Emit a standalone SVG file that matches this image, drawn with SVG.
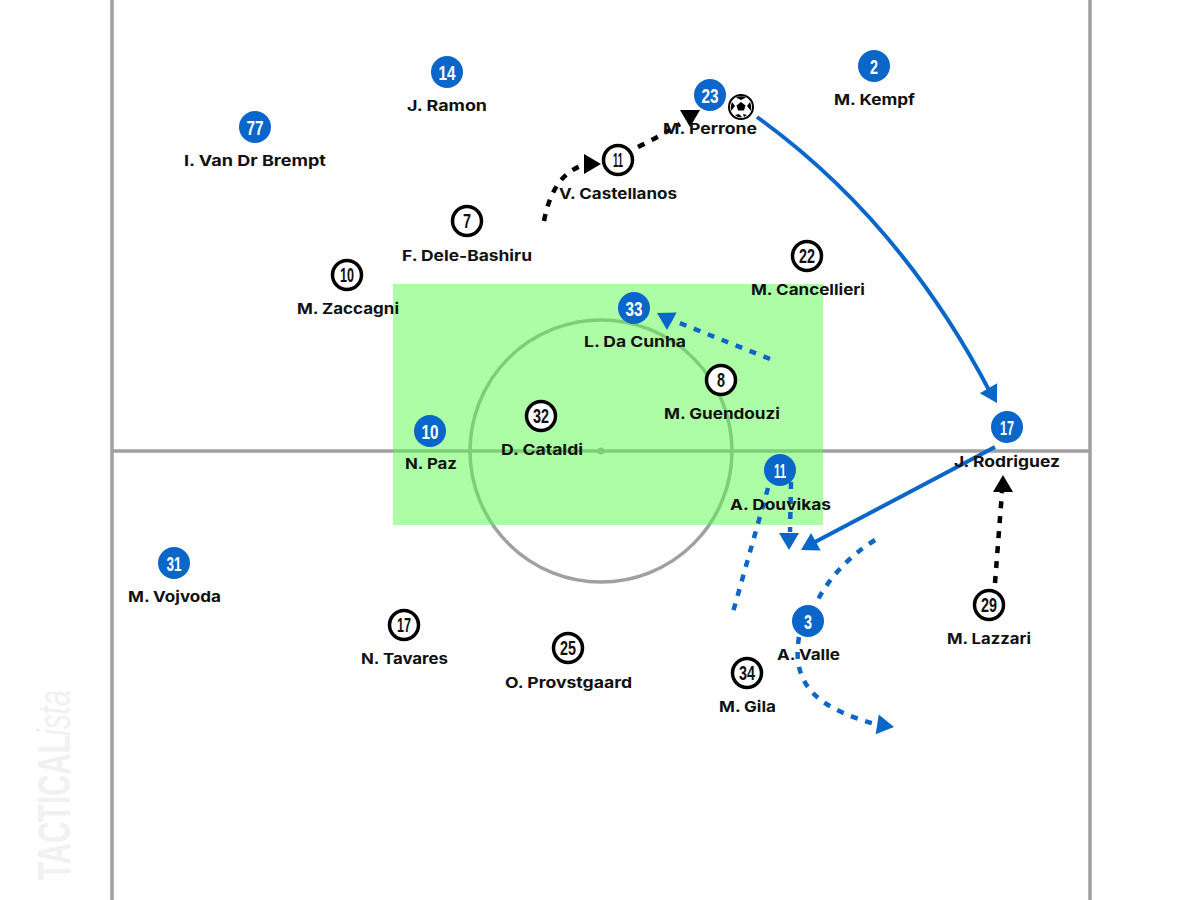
<svg xmlns="http://www.w3.org/2000/svg" width="1200" height="900" viewBox="0 0 1200 900">
<style>
.pitch{fill:none;stroke:#a0a0a0;stroke-width:3.5}
.zone{fill:rgb(91,251,77);opacity:.5}
.ln{fill:none;stroke-width:4}
.blue{stroke:#0a66c8}
.black{stroke:#000;stroke-width:4.5}
.dash{stroke-dasharray:7 8;stroke-width:4.5}
.hb{fill:#0a66c8}
.hk{fill:#000}
.dotb{fill:#0a66c8}
.dotw{fill:#fff;stroke:#000;stroke-width:3.5}
.nb{font:700 21px "Liberation Sans",sans-serif;fill:#fff;text-anchor:middle}
.nw{font:700 20px "Liberation Sans",sans-serif;fill:#111;text-anchor:middle}
.lb{font:700 15px Inter,"Liberation Sans",sans-serif;fill:#111;text-anchor:middle}
.wm{font:700 46px "Liberation Sans",sans-serif;fill:#f1f1f1}
.wi{font-weight:400;font-style:italic}
</style>
<defs><polygon id="head" points="-17,-10 0,0 -17,10"/></defs>
<rect width="1200" height="900" fill="#fff"/>
<g id="pitch">
<path class="pitch" d="M112 0V900M1090 0V900M112 451H1090"/>
<circle class="pitch" cx="601" cy="451" r="131"/>
<circle cx="601" cy="451" r="3.5" fill="#a0a0a0"/>
<rect class="zone" x="393" y="284" width="430" height="241"/>
</g>
<text class="wm" transform="translate(70,880) rotate(-90)" textLength="190" lengthAdjust="spacingAndGlyphs">TACTICAL<tspan class="wi">ista</tspan></text>
<g id="connectors">
<path class="ln black dash" d="M544 221C549 195 560 172 584 165"/>
<use href="#head" class="hk" transform="translate(601,164)"/>
<path class="ln black dash" d="M638 147Q660 136 680 124"/>
<use href="#head" class="hk" transform="translate(690,127) rotate(90)"/>
<path class="ln black dash" d="M995 583L1002 492"/>
<use href="#head" class="hk" transform="translate(1003,475) rotate(-90)"/>
<path class="ln blue" d="M757 117Q900 220 990 392"/>
<use href="#head" class="hb" transform="translate(997,403) rotate(60)"/>
<path class="ln blue" d="M995 447L815 542"/>
<use href="#head" class="hb" transform="translate(801,550) rotate(151)"/>
<path class="ln blue dash" d="M770 359L672 320"/>
<use href="#head" class="hb" transform="translate(657,313) rotate(209)"/>
<path class="ln blue dash" d="M791 482L790 532"/>
<use href="#head" class="hb" transform="translate(789,550) rotate(90)"/>
<path class="ln blue dash" d="M768 488L733 612"/>
<path class="ln blue dash" d="M875 540Q835 565 815 605"/>
<path class="ln blue dash" d="M799 637C790 690 825 710 878 725"/>
<use href="#head" class="hb" transform="translate(894,727) rotate(9)"/>
</g>
<g id="p14"><circle class="dotb" cx="447" cy="72" r="16"/><text class="nb" x="447" y="79.500" textLength="17" lengthAdjust="spacingAndGlyphs">14</text><text class="lb" x="447" y="111" textLength="80" lengthAdjust="spacingAndGlyphs">J. Ramon</text></g>
<g id="p2"><circle class="dotb" cx="874" cy="66" r="16"/><text class="nb" x="874" y="73.500" textLength="8" lengthAdjust="spacingAndGlyphs">2</text><text class="lb" x="874.500" y="105" textLength="81" lengthAdjust="spacingAndGlyphs">M. Kempf</text></g>
<g id="p77"><circle class="dotb" cx="255" cy="127" r="16"/><text class="nb" x="255" y="134.500" textLength="17" lengthAdjust="spacingAndGlyphs">77</text><text class="lb" x="255" y="166" textLength="142" lengthAdjust="spacingAndGlyphs">I. Van Dr Brempt</text></g>
<g id="p23"><circle class="dotb" cx="710" cy="95" r="16"/><text class="nb" x="710" y="102.500" textLength="17" lengthAdjust="spacingAndGlyphs">23</text><text class="lb" x="710" y="134" textLength="94" lengthAdjust="spacingAndGlyphs">M. Perrone</text></g>
<g id="p33"><circle class="dotb" cx="634" cy="308" r="16"/><text class="nb" x="634" y="315.500" textLength="17" lengthAdjust="spacingAndGlyphs">33</text><text class="lb" x="635" y="347" textLength="102" lengthAdjust="spacingAndGlyphs">L. Da Cunha</text></g>
<g id="p10b"><circle class="dotb" cx="430" cy="431" r="16"/><text class="nb" x="430" y="438.500" textLength="17" lengthAdjust="spacingAndGlyphs">10</text><text class="lb" x="431" y="469" textLength="52" lengthAdjust="spacingAndGlyphs">N. Paz</text></g>
<g id="p11b"><circle class="dotb" cx="780" cy="470" r="16"/><text class="nb" x="780" y="477.500" textLength="12" lengthAdjust="spacingAndGlyphs">11</text><text class="lb" x="780.500" y="510" textLength="101" lengthAdjust="spacingAndGlyphs">A. Douvikas</text></g>
<g id="p17b"><circle class="dotb" cx="1007" cy="427" r="16"/><text class="nb" x="1007" y="434.500" textLength="14" lengthAdjust="spacingAndGlyphs">17</text><text class="lb" x="1007" y="467" textLength="106" lengthAdjust="spacingAndGlyphs">J. Rodriguez</text></g>
<g id="p31"><circle class="dotb" cx="174" cy="563" r="16"/><text class="nb" x="174" y="570.500" textLength="15" lengthAdjust="spacingAndGlyphs">31</text><text class="lb" x="174.500" y="602" textLength="93" lengthAdjust="spacingAndGlyphs">M. Vojvoda</text></g>
<g id="p3"><circle class="dotb" cx="808" cy="621" r="16"/><text class="nb" x="808" y="628.500" textLength="8" lengthAdjust="spacingAndGlyphs">3</text><text class="lb" x="808.500" y="660" textLength="63" lengthAdjust="spacingAndGlyphs">A. Valle</text></g>
<g id="p11w"><circle class="dotw" cx="618" cy="160" r="14.500"/><text class="nw" x="618" y="167" textLength="10" lengthAdjust="spacingAndGlyphs">11</text><text class="lb" x="618" y="199" textLength="118" lengthAdjust="spacingAndGlyphs">V. Castellanos</text></g>
<g id="p7"><circle class="dotw" cx="467" cy="221" r="14.500"/><text class="nw" x="467" y="228" textLength="8" lengthAdjust="spacingAndGlyphs">7</text><text class="lb" x="467" y="261" textLength="130" lengthAdjust="spacingAndGlyphs">F. Dele-Bashiru</text></g>
<g id="p10w"><circle class="dotw" cx="347" cy="275" r="14.500"/><text class="nw" x="347" y="282" textLength="14" lengthAdjust="spacingAndGlyphs">10</text><text class="lb" x="348" y="314" textLength="102" lengthAdjust="spacingAndGlyphs">M. Zaccagni</text></g>
<g id="p22"><circle class="dotw" cx="807" cy="256" r="14.500"/><text class="nw" x="807" y="263" textLength="16" lengthAdjust="spacingAndGlyphs">22</text><text class="lb" x="808" y="295" textLength="114" lengthAdjust="spacingAndGlyphs">M. Cancellieri</text></g>
<g id="p8"><circle class="dotw" cx="721" cy="380" r="14.500"/><text class="nw" x="721" y="387" textLength="8" lengthAdjust="spacingAndGlyphs">8</text><text class="lb" x="722" y="419" textLength="116" lengthAdjust="spacingAndGlyphs">M. Guendouzi</text></g>
<g id="p32"><circle class="dotw" cx="541" cy="416" r="14.500"/><text class="nw" x="541" y="423" textLength="16" lengthAdjust="spacingAndGlyphs">32</text><text class="lb" x="542" y="455" textLength="82" lengthAdjust="spacingAndGlyphs">D. Cataldi</text></g>
<g id="p29"><circle class="dotw" cx="989" cy="605" r="14.500"/><text class="nw" x="989" y="612" textLength="16" lengthAdjust="spacingAndGlyphs">29</text><text class="lb" x="989" y="644" textLength="84" lengthAdjust="spacingAndGlyphs">M. Lazzari</text></g>
<g id="p17w"><circle class="dotw" cx="404" cy="625" r="14.500"/><text class="nw" x="404" y="632" textLength="14" lengthAdjust="spacingAndGlyphs">17</text><text class="lb" x="404.500" y="664" textLength="87" lengthAdjust="spacingAndGlyphs">N. Tavares</text></g>
<g id="p25"><circle class="dotw" cx="568" cy="648" r="14.500"/><text class="nw" x="568" y="655" textLength="16" lengthAdjust="spacingAndGlyphs">25</text><text class="lb" x="568.500" y="688" textLength="127" lengthAdjust="spacingAndGlyphs">O. Provstgaard</text></g>
<g id="p34"><circle class="dotw" cx="747" cy="673" r="14.500"/><text class="nw" x="747" y="680" textLength="16" lengthAdjust="spacingAndGlyphs">34</text><text class="lb" x="747.500" y="712" textLength="57" lengthAdjust="spacingAndGlyphs">M. Gila</text></g>
<g id="ball">
<circle cx="741" cy="107" r="12" fill="#fff" stroke="#000" stroke-width="2"/>
<polygon points="741,102 745.500,105.500 744,110.500 738,110.500 736.500,105.500" fill="#000"/>
<path d="M736 97.500Q741 95 746 97.500L741 100ZM750 102Q752 106 751 111L747 106ZM732 102Q730 106 731 111L735 106ZM735 115L739 114L742 117Q738 118 735 115ZM747 115L743 114L744 117Z" fill="#000"/>
</g>
</svg>
